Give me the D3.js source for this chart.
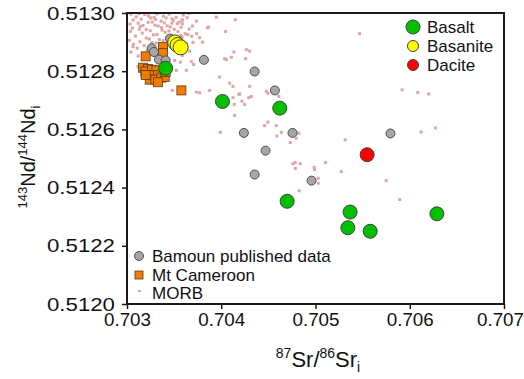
<!DOCTYPE html>
<html>
<head>
<meta charset="utf-8">
<script src="https://cdn.jsdelivr.net/npm/d3@7"></script>
<style>
  body { margin: 0; background: #fff; }
  text { font-family: Arial, "Liberation Sans", sans-serif; fill: #111; }
</style>
</head>
<body>
<div id="chart"></div>
<script>
// tick values
const xTicks = [0.703, 0.704, 0.705, 0.706, 0.707];
const yTicks = [0.5120, 0.5122, 0.5124, 0.5126, 0.5128, 0.5130];

// [87Sr/86Sr, 143Nd/144Nd]
const basalt = [
  [0.70341, 0.51281], [0.704013, 0.512696], [0.704621, 0.512673], [0.704699, 0.512353],
  [0.705367, 0.512316], [0.705343, 0.512262], [0.70558, 0.51225], [0.706288, 0.51231]
];
const basanite = [[0.703511, 0.512899], [0.703537, 0.51289], [0.703569, 0.512882]];
const dacite = [[0.705548, 0.512513]];

const bamoun = [
  [0.703456, 0.512912], [0.703262, 0.512879], [0.703286, 0.512866], [0.703339, 0.51284],
  [0.70341, 0.512837], [0.703816, 0.512839], [0.704354, 0.512799], [0.704569, 0.512734],
  [0.70424, 0.512588], [0.704756, 0.512588], [0.70447, 0.512527], [0.704354, 0.512445],
  [0.704958, 0.512424], [0.705795, 0.512586]
];

const mtCameroon = [
  [0.703198, 0.512851], [0.703382, 0.512883], [0.703382, 0.512862], [0.70317, 0.512812],
  [0.703223, 0.512808], [0.703195, 0.512799], [0.703265, 0.512805], [0.703312, 0.512803],
  [0.703259, 0.512786], [0.703329, 0.512786], [0.703241, 0.512771], [0.703301, 0.512771],
  [0.703365, 0.512778], [0.7034, 0.51278], [0.703329, 0.512762], [0.70341, 0.512797],
  [0.703198, 0.512787], [0.703577, 0.512734]
];

const morb = [
  // dense cloud near the low-Sr / high-Nd corner
  [0.703042, 0.512996], [0.703097, 0.512987], [0.703188, 0.512995], [0.703251, 0.512983], [0.703318, 0.512997],
  [0.703386, 0.512989], [0.703447, 0.512996], [0.703522, 0.512985], [0.703597, 0.512993],
  [0.703066, 0.512976], [0.703151, 0.512979], [0.703224, 0.512968], [0.703287, 0.512985], [0.703362, 0.512972],
  [0.703415, 0.512983], [0.703491, 0.512975], [0.703553, 0.512969], [0.703638, 0.512984],
  [0.703031, 0.512962], [0.703119, 0.512965], [0.703171, 0.512957], [0.703268, 0.512969], [0.703331, 0.512955],
  [0.703396, 0.512966], [0.703458, 0.512952], [0.703533, 0.512963],
  [0.703057, 0.512948], [0.703141, 0.512954], [0.703203, 0.512943], [0.703297, 0.512958], [0.703372, 0.512941],
  [0.703426, 0.512956], [0.703501, 0.512944], [0.703574, 0.512951], [0.703659, 0.512945],
  [0.703036, 0.512937], [0.703162, 0.512931], [0.703247, 0.512939], [0.703318, 0.512926], [0.703405, 0.512934],
  [0.703468, 0.512923], [0.703541, 0.512936], [0.703617, 0.512929],
  [0.703089, 0.512921], [0.703204, 0.512914], [0.703279, 0.512925], [0.703343, 0.512909], [0.703427, 0.512918],
  [0.703511, 0.512911], [0.703585, 0.512917],
  [0.703026, 0.512906], [0.703138, 0.512901], [0.703236, 0.512911], [0.703309, 0.512897], [0.703383, 0.512905],
  [0.703068, 0.512893], [0.703182, 0.512888], [0.703264, 0.512898], [0.703352, 0.512884],
  [0.703109, 0.512879], [0.703214, 0.512872], [0.703041, 0.512866], [0.703168, 0.512859],
  [0.703129, 0.512998], [0.703228, 0.51299], [0.703303, 0.512978], [0.703477, 0.51298], [0.703366, 0.51295],
  [0.70313, 0.512944], [0.703445, 0.512938], [0.703063, 0.512884], [0.703118, 0.512852], [0.703476, 0.512965],
  [0.703585, 0.512975], [0.703695, 0.512955], [0.703658, 0.512998],
  // scattered
  [0.704149, 0.512977], [0.705467, 0.512929], [0.704134, 0.512866], [0.704301, 0.512869], [0.704107, 0.512848],
  [0.704089, 0.512759], [0.704124, 0.512748], [0.704188, 0.51272], [0.704301, 0.512748], [0.704319, 0.512713],
  [0.704124, 0.512709], [0.704219, 0.512697], [0.704248, 0.512686], [0.704138, 0.512686], [0.704478, 0.512731],
  [0.704495, 0.512724], [0.704611, 0.512714], [0.705919, 0.512736], [0.706085, 0.512727], [0.706201, 0.512722],
  [0.703587, 0.512977], [0.703587, 0.512963], [0.703736, 0.512972], [0.703948, 0.512986], [0.703852, 0.512949],
  [0.704046, 0.512936], [0.703643, 0.512926], [0.703686, 0.51292], [0.703771, 0.512915], [0.703572, 0.512922],
  [0.7037, 0.512899], [0.70363, 0.512894], [0.703665, 0.512869], [0.704266, 0.512874], [0.703506, 0.512837],
  [0.703566, 0.512831], [0.703683, 0.512833], [0.703587, 0.512854], [0.703802, 0.5129], [0.703866, 0.512952],
  [0.703739, 0.512929], [0.703481, 0.512734], [0.703736, 0.512728], [0.703983, 0.51278], [0.703877, 0.512734],
  [0.704054, 0.51284], [0.704258, 0.512843], [0.703524, 0.512803], [0.703117, 0.512816], [0.70363, 0.512803],
  [0.704036, 0.512843], [0.703771, 0.512726], [0.704195, 0.512722], [0.704293, 0.512709], [0.704142, 0.512648],
  [0.70399, 0.51259], [0.704495, 0.512625], [0.70446, 0.512613], [0.704584, 0.512613], [0.704637, 0.51259],
  [0.70459, 0.512577], [0.704732, 0.512555], [0.704796, 0.51257], [0.704823, 0.512587], [0.70476, 0.512482],
  [0.704785, 0.512486], [0.704838, 0.512482], [0.704785, 0.512466], [0.704986, 0.51247], [0.70499, 0.512462],
  [0.705106, 0.512486], [0.705029, 0.512432], [0.705029, 0.512415], [0.704827, 0.512389], [0.706121, 0.512591],
  [0.706272, 0.512605], [0.705315, 0.512564], [0.705273, 0.512455], [0.70575, 0.512424], [0.705894, 0.512359],
  [0.703707, 0.512823]
];

const W = 524, H = 379;
const plot = {left: 127, right: 504, top: 13, bottom: 304};

const svg = d3.select("#chart").append("svg")
  .attr("width", W).attr("height", H);

const x = d3.scaleLinear().domain([0.703, 0.707]).range([plot.left, plot.right]);
const y = d3.scaleLinear().domain([0.5120, 0.5130]).range([plot.bottom, plot.top]);

// MORB small squares
svg.append("g").selectAll("rect")
  .data(morb).enter().append("rect")
    .attr("x", d => x(d[0]) - 1.5)
    .attr("y", d => y(d[1]) - 1.5)
    .attr("width", 3).attr("height", 3)
    .style("fill", "#e3a3a6");

// Mt Cameroon squares
svg.append("g").selectAll("rect")
  .data(mtCameroon).enter().append("rect")
    .attr("x", d => x(d[0]) - 4.5)
    .attr("y", d => y(d[1]) - 4.5)
    .attr("width", 9).attr("height", 9)
    .style("fill", "#f27b00")
    .style("stroke", "#5a3a1a")
    .style("stroke-width", 0.8);

// Bamoun published data
svg.append("g").selectAll("circle")
  .data(bamoun).enter().append("circle")
    .attr("cx", d => x(d[0])).attr("cy", d => y(d[1]))
    .attr("r", 4.5)
    .style("fill", "#a6a6a6")
    .style("stroke", "#4d4d4d")
    .style("stroke-width", 1);

const groups = [
  {data: basalt, fill: "#00c000", r: 7},
  {data: basanite, fill: "#ffff00", r: 7.5},
  {data: dacite, fill: "#ff0000", r: 7}
];
groups.forEach(g => {
  svg.append("g").selectAll("circle")
    .data(g.data).enter().append("circle")
      .attr("cx", d => x(d[0])).attr("cy", d => y(d[1]))
      .attr("r", g.r)
      .style("fill", g.fill)
      .style("stroke", "#404040")
      .style("stroke-width", 1);
});

// frame
svg.append("rect")
  .attr("x", plot.left).attr("y", plot.top)
  .attr("width", plot.right - plot.left).attr("height", plot.bottom - plot.top)
  .style("fill", "none").style("stroke", "#1a1a1a").style("stroke-width", 2);

// axes
const yAxis = svg.append("g")
  .attr("transform", "translate(" + plot.left + ",0)")
  .call(d3.axisLeft(y).tickValues(yTicks).tickFormat(d3.format(".4f")).tickSize(5).tickPadding(7));
const xAxis = svg.append("g")
  .attr("transform", "translate(0," + plot.bottom + ")")
  .call(d3.axisBottom(x).tickValues(xTicks).tickFormat(d3.format(".3f")).tickSize(5).tickPadding(4));
[yAxis, xAxis].forEach(a => {
  a.select(".domain").remove();
  a.selectAll("line").style("stroke", "#1a1a1a").style("stroke-width", 1.5);
  a.selectAll("text").style("font-size", "19px").style("fill", "#111")
    .style("font-family", "Arial, 'Liberation Sans', sans-serif")
    .attr("lengthAdjust", "spacingAndGlyphs");
});
yAxis.selectAll("text").attr("textLength", 68);
xAxis.selectAll("text").attr("textLength", 47);
// last x label pulled in so it stays inside the window
xAxis.selectAll("text").filter(d => d === 0.707).attr("dx", -4);

// axis titles
const xt = svg.append("text")
  .attr("x", 318).attr("y", 367)
  .attr("text-anchor", "middle")
  .style("font-size", "22px");
xt.append("tspan").text("87").style("font-size", "14px").attr("dy", -9);
xt.append("tspan").text("Sr/").attr("dy", 9);
xt.append("tspan").text("86").style("font-size", "14px").attr("dy", -9);
xt.append("tspan").text("Sr").attr("dy", 9);
xt.append("tspan").text("i").style("font-size", "14px").attr("dy", 5);

const yt = svg.append("text")
  .attr("transform", "translate(35,157) rotate(-90)")
  .attr("text-anchor", "middle")
  .style("font-size", "20px");
yt.append("tspan").text("143").style("font-size", "13px").attr("dy", -8);
yt.append("tspan").text("Nd/").attr("dy", 8);
yt.append("tspan").text("144").style("font-size", "13px").attr("dy", -8);
yt.append("tspan").text("Nd").attr("dy", 8);
yt.append("tspan").text("i").style("font-size", "13px").attr("dy", 5);

// legend top right
const legTop = [
  {label: "Basalt", fill: "#00c000", r: 7, cy: 27},
  {label: "Basanite", fill: "#ffff00", r: 5.5, cy: 46},
  {label: "Dacite", fill: "#ff0000", r: 5.5, cy: 65}
];
legTop.forEach(l => {
  svg.append("circle").attr("cx", 413).attr("cy", l.cy).attr("r", l.r)
    .style("fill", l.fill).style("stroke", "#404040").style("stroke-width", 1);
  svg.append("text").attr("x", 427).attr("y", l.cy + 6)
    .style("font-size", "17px").text(l.label);
});

// legend bottom left
svg.append("circle").attr("cx", 139).attr("cy", 256).attr("r", 4.5)
  .style("fill", "#a6a6a6").style("stroke", "#4d4d4d");
svg.append("text").attr("x", 152).attr("y", 262).style("font-size", "17px").text("Bamoun published data");
svg.append("rect").attr("x", 135).attr("y", 271).attr("width", 8).attr("height", 8)
  .style("fill", "#f27b00").style("stroke", "#5a3a1a").style("stroke-width", 0.8);
svg.append("text").attr("x", 152).attr("y", 281).style("font-size", "17px").text("Mt Cameroon");
svg.append("rect").attr("x", 138).attr("y", 290).attr("width", 3).attr("height", 2)
  .style("fill", "#e3a3a6");
svg.append("text").attr("x", 152).attr("y", 299).style("font-size", "17px").text("MORB");
</script>
</body>
</html>
